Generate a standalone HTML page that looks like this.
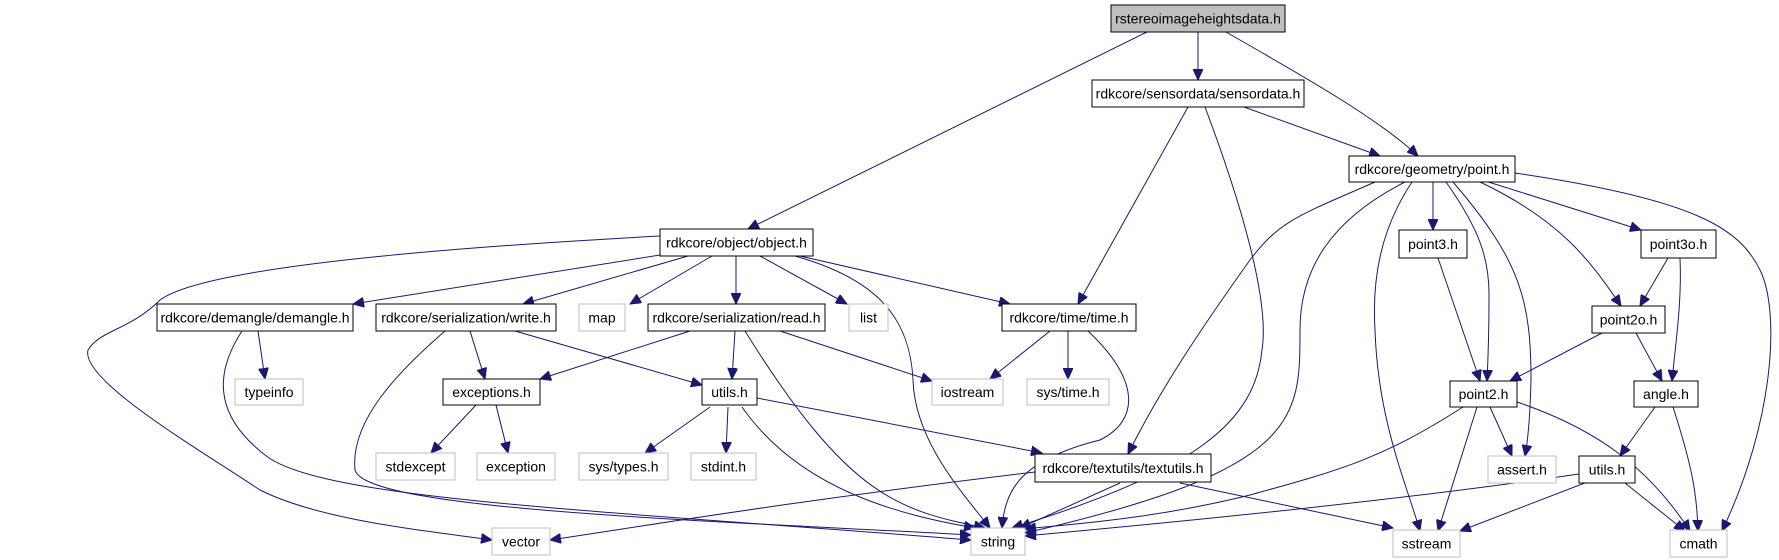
<!DOCTYPE html>
<html><head><meta charset="utf-8"><style>
html,body{margin:0;padding:0;background:#fff;}
svg{display:block;}
text{font-family:"Liberation Sans",sans-serif;font-size:14px;fill:#000;text-anchor:middle;dominant-baseline:central;}
.e{fill:none;stroke:#191970;stroke-width:1;}
.b{fill:#fff;stroke:#000;stroke-width:1;}
.g{fill:#fff;stroke:#bfbfbf;stroke-width:1;}
</style></head><body>
<svg width="1779" height="560" viewBox="0 0 1779 560" xmlns="http://www.w3.org/2000/svg">
<defs><marker id="a" markerUnits="userSpaceOnUse" markerWidth="12" markerHeight="10" refX="11" refY="5" orient="auto"><path d="M0,0 L11,5 L0,10 Z" fill="#191970" stroke="#191970"/></marker></defs>
<g marker-end="url(#a)">
<path class="e" d="M1147,32 L748,229"/>
<path class="e" d="M1198,32 L1198,80"/>
<path class="e" d="M1226,32 C1310,80 1380,120 1418,156"/>
<path class="e" d="M1244,107 L1380,156"/>
<path class="e" d="M1188,107 L1078,304"/>
<path class="e" d="M1205,107 C1240,200 1270,300 1262,350 C1255,420 1200,470 1012,528"/>
<path class="e" d="M1375,182 C1300,215 1280,220 1250,260 C1200,330 1160,390 1128,454"/>
<path class="e" d="M1405,182 C1330,220 1300,270 1300,330 C1300,420 1300,470 1025,533"/>
<path class="e" d="M1412,182 C1380,230 1372,280 1375,330 C1378,420 1405,480 1420,531"/>
<path class="e" d="M1433,182 L1433,230"/>
<path class="e" d="M1446,182 C1480,230 1490,260 1489,300 C1489,330 1488,360 1487,381"/>
<path class="e" d="M1453,182 C1520,260 1531,300 1531,380 C1530,420 1528,440 1525,456"/>
<path class="e" d="M1480,182 C1560,220 1590,260 1621,306"/>
<path class="e" d="M1482,180 L1641,230"/>
<path class="e" d="M1515,173 C1700,200 1740,230 1760,270 C1780,310 1775,420 1722,531"/>
<path class="e" d="M1438,258 L1480,381"/>
<path class="e" d="M1668,258 L1640,306"/>
<path class="e" d="M1680,258 C1682,300 1676,340 1672,381"/>
<path class="e" d="M1602,333 L1510,381"/>
<path class="e" d="M1636,333 L1662,381"/>
<path class="e" d="M1463,407 C1380,460 1340,470 1250,495 C1150,520 1060,525 1025,529"/>
<path class="e" d="M1477,407 L1438,531"/>
<path class="e" d="M1490,407 L1512,456"/>
<path class="e" d="M1517,402 C1600,430 1650,470 1690,531"/>
<path class="e" d="M1655,407 L1620,456"/>
<path class="e" d="M1673,407 C1690,460 1697,490 1698,531"/>
<path class="e" d="M1579,474 C1400,500 1200,520 1025,536"/>
<path class="e" d="M1590,481 L1460,531"/>
<path class="e" d="M1625,483 L1685,531"/>
<path class="e" d="M1180,483 L1393,528"/>
<path class="e" d="M1120,483 L1020,528"/>
<path class="e" d="M1035,472 C800,500 650,525 550,540"/>
<path class="e" d="M660,236 C400,250 200,270 160,300 C130,330 100,330 88,350 C80,380 200,450 260,490 C320,520 420,530 492,540"/>
<path class="e" d="M660,255 L353,304"/>
<path class="e" d="M688,256 L523,304"/>
<path class="e" d="M712,256 L630,304"/>
<path class="e" d="M736,256 L736,304"/>
<path class="e" d="M760,256 L847,304"/>
<path class="e" d="M795,256 C880,280 910,320 913,380 C915,440 960,490 990,528"/>
<path class="e" d="M800,256 L1010,304"/>
<path class="e" d="M258,331 L265,379"/>
<path class="e" d="M242,331 C210,380 220,420 265,455 C320,500 600,510 971,540"/>
<path class="e" d="M470,331 L485,379"/>
<path class="e" d="M515,331 L702,385"/>
<path class="e" d="M445,331 C400,370 350,420 355,470 C365,510 700,520 971,535"/>
<path class="e" d="M690,331 L540,379"/>
<path class="e" d="M735,331 L732,379"/>
<path class="e" d="M780,331 L932,381"/>
<path class="e" d="M745,331 C850,500 900,510 985,528"/>
<path class="e" d="M476,405 L431,453"/>
<path class="e" d="M496,405 L508,453"/>
<path class="e" d="M710,407 L645,453"/>
<path class="e" d="M728,407 L726,453"/>
<path class="e" d="M742,407 C800,490 900,515 975,528"/>
<path class="e" d="M757,398 L1042,453"/>
<path class="e" d="M1050,331 L990,379"/>
<path class="e" d="M1068,331 L1068,379"/>
<path class="e" d="M1088,331 C1140,380 1140,420 1100,440 C1020,460 1005,490 1002,528"/>
</g>
<rect x="1111" y="5" width="174" height="27" fill="#bfbfbf" stroke="#000"/><text x="1198" y="18.5">rstereoimageheightsdata.h</text>
<rect class="b" x="1092" y="80" width="212" height="27"/><text x="1198" y="93.5">rdkcore/sensordata/sensordata.h</text>
<rect class="b" x="1349" y="156" width="166" height="26"/><text x="1432" y="169">rdkcore/geometry/point.h</text>
<rect class="b" x="660" y="229" width="153" height="27"/><text x="736.5" y="242.5">rdkcore/object/object.h</text>
<rect class="b" x="1399" y="230" width="68" height="28"/><text x="1433" y="244">point3.h</text>
<rect class="b" x="1641" y="230" width="75" height="28"/><text x="1678.5" y="244">point3o.h</text>
<rect class="b" x="157" y="304" width="196" height="27"/><text x="255" y="317.5">rdkcore/demangle/demangle.h</text>
<rect class="b" x="376" y="304" width="180" height="27"/><text x="466" y="317.5">rdkcore/serialization/write.h</text>
<rect class="g" x="579" y="304" width="46" height="27"/><text x="602" y="317.5">map</text>
<rect class="b" x="648" y="304" width="177" height="27"/><text x="736.5" y="317.5">rdkcore/serialization/read.h</text>
<rect class="g" x="849" y="304" width="39" height="27"/><text x="868.5" y="317.5">list</text>
<rect class="b" x="1002" y="304" width="134" height="27"/><text x="1069" y="317.5">rdkcore/time/time.h</text>
<rect class="b" x="1592" y="306" width="73" height="27"/><text x="1628.5" y="319.5">point2o.h</text>
<rect class="g" x="235" y="379" width="68" height="26"/><text x="269" y="392">typeinfo</text>
<rect class="b" x="443" y="379" width="97" height="26"/><text x="491.5" y="392">exceptions.h</text>
<rect class="b" x="702" y="379" width="55" height="26"/><text x="729.5" y="392">utils.h</text>
<rect class="g" x="932" y="379" width="71" height="26"/><text x="967.5" y="392">iostream</text>
<rect class="g" x="1027" y="379" width="82" height="26"/><text x="1068" y="392">sys/time.h</text>
<rect class="b" x="1450" y="381" width="67" height="26"/><text x="1483.5" y="394">point2.h</text>
<rect class="b" x="1634" y="381" width="64" height="26"/><text x="1666" y="394">angle.h</text>
<rect class="g" x="376" y="453" width="79" height="27"/><text x="415.5" y="466.5">stdexcept</text>
<rect class="g" x="477" y="453" width="78" height="27"/><text x="516" y="466.5">exception</text>
<rect class="g" x="579" y="453" width="89" height="27"/><text x="623.5" y="466.5">sys/types.h</text>
<rect class="g" x="691" y="453" width="65" height="27"/><text x="723.5" y="466.5">stdint.h</text>
<rect class="b" x="1035" y="454" width="176" height="28"/><text x="1123" y="468">rdkcore/textutils/textutils.h</text>
<rect class="g" x="1488" y="456" width="68" height="27"/><text x="1522" y="469.5">assert.h</text>
<rect class="b" x="1579" y="456" width="56" height="27"/><text x="1607" y="469.5">utils.h</text>
<rect class="g" x="492" y="528" width="58" height="27"/><text x="521" y="541.5">vector</text>
<rect class="g" x="971" y="528" width="54" height="27"/><text x="998" y="541.5">string</text>
<rect class="g" x="1393" y="530" width="67" height="27"/><text x="1426.5" y="543.5">sstream</text>
<rect class="g" x="1670" y="530" width="57" height="27"/><text x="1698.5" y="543.5">cmath</text>
</svg>
</body></html>
